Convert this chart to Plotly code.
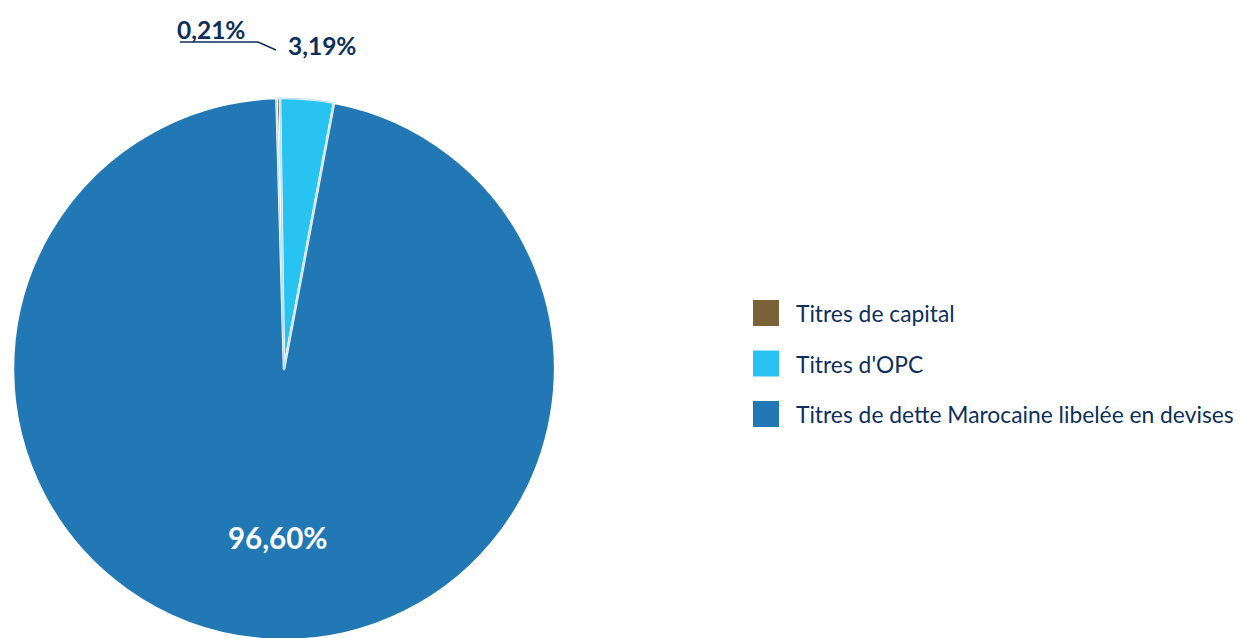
import plotly.graph_objects as go

categories = ["Titres de capital", "Titres d'OPC", "Titres de dette Marocaine libelée en devises"]
shares = [0.21, 3.19, 96.60]
colors = ["#7b6137", "#29c3f2", "#2278b5"]

W, H = 1243, 638
OFF = 8  # page body margin
FONT = "Lato, 'Noto Sans', sans-serif"
NAVY = "#0d2f5a"


def px(x):
    return (x - OFF) / W


def py(y):
    return 1 - (y - OFF) / H


def fmt(v):
    return f"{v:.2f}".replace(".", ",") + "%"


dom = dict(x=[px(13), px(555)], y=[max(0, py(640)), py(98)])

fig = go.Figure()
fig.add_trace(go.Pie(
    labels=categories, values=shares, sort=False, direction="clockwise", rotation=-1.6,
    marker=dict(colors=colors, line=dict(color="#ffffff", width=2.5)),
    textinfo="none", hoverinfo="label+percent", showlegend=False, domain=dom))
fig.add_trace(go.Pie(
    labels=categories, values=shares, sort=False, direction="clockwise", rotation=-1.6,
    marker=dict(colors=["rgba(0,0,0,0)"] * 3,
                line=dict(color=["#b9dff0", "#b9dff0", "rgba(0,0,0,0)"], width=1)),
    textinfo="none", hoverinfo="skip", showlegend=False, domain=dom))

# value labels
label_pos = [(211, 29), (322, 45), (278, 537)]
label_col = [NAVY, NAVY, "#ffffff"]
label_size = [24.5, 24.5, 29.5]
annotations = []
for v, (x, y), c, s in zip(shares, label_pos, label_col, label_size):
    annotations.append(dict(x=px(x), y=py(y), xref="paper", yref="paper", text=f"<b>{fmt(v)}</b>",
                            showarrow=False, font=dict(family=FONT, size=s, color=c),
                            xanchor="center", yanchor="middle"))

shapes = [dict(type="path", xref="paper", yref="paper",
               path=f"M {px(180)},{py(42)} L {px(258)},{py(42)} L {px(276)},{py(50)}",
               line=dict(color=NAVY, width=1.5))]

# custom legend
leg_x, leg_y0, leg_dy, sw = 753, 313, 50.5, 26
for i, (cat, col) in enumerate(zip(categories, colors)):
    yc = leg_y0 + i * leg_dy
    shapes.append(dict(type="rect", xref="paper", yref="paper",
                       x0=px(leg_x), x1=px(leg_x + sw), y0=py(yc + sw / 2), y1=py(yc - sw / 2),
                       fillcolor=col, line=dict(width=0)))
    annotations.append(dict(x=px(794), y=py(yc), xref="paper", yref="paper", text=cat,
                            showarrow=False, font=dict(family=FONT, size=22.8, color=NAVY),
                            xanchor="left", yanchor="middle"))

fig.update_layout(width=W, height=H, margin=dict(l=0, r=0, t=0, b=0),
                  paper_bgcolor="#ffffff", plot_bgcolor="#ffffff",
                  annotations=annotations, shapes=shapes, showlegend=False)

fig.write_html("out.html")
